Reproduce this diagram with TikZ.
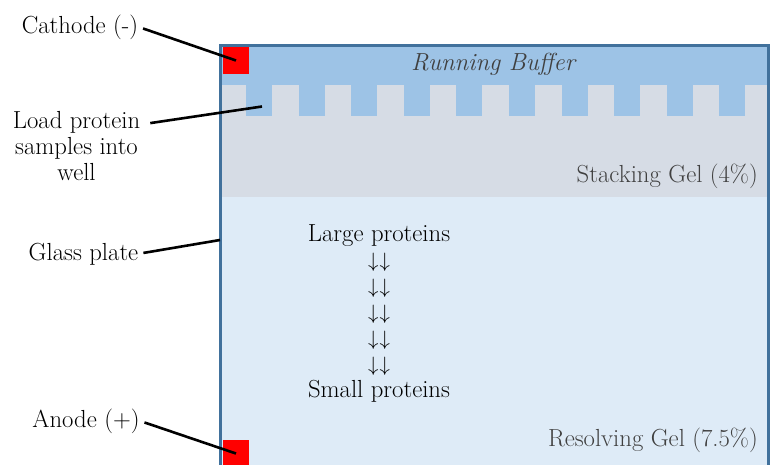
\documentclass[tikz,border=0pt]{standalone}
\usepackage{xcolor}
\usepackage{tikz}
\definecolor{buffer}{HTML}{9DC3E6}
\definecolor{stacking}{HTML}{D6DCE5}
\definecolor{resolving}{HTML}{DEEBF7}
\definecolor{plate}{HTML}{41719C}
\definecolor{geltext}{HTML}{404040}
\newcommand{\downpair}{{\fontsize{20}{26}\selectfont$\downarrow\mkern1mu\downarrow$}}

\begin{document}
\begin{tikzpicture}[x=1pt,y=-1pt,
    lbl/.style={font=\fontsize{24.7}{26}\selectfont,align=center,inner sep=0pt},
    gellbl/.style={lbl,text=geltext},
    lead/.style={line width=2.6pt,shorten <=5pt},
    electrode/.style={fill=red,inner sep=0pt,minimum width=26pt,minimum height=27pt},
    well/.style={fill=buffer,inner sep=0pt,minimum width=26pt,minimum height=31pt}]
    \useasboundingbox (0,0) rectangle (770,464);

    % gel layers
    \fill[buffer] (220,45) rectangle (768,86);
    \fill[stacking] (220,85) rectangle (768,197);
    \fill[resolving] (220,197) rectangle (768,470);
    \foreach \i in {0,...,9}
        \node[well] (w\i) at ({259+52.6*\i},100.5) {};
    \draw[plate,line width=3pt] (220.5,470) |- (768,45) -- (768,470);
    \coordinate (edge) at (220,240);

    \node[electrode] (cathode) at (236,60.5) {};
    \node[electrode] (anode) at (236,453.5) {};

    \node[gellbl,anchor=base,font=\fontsize{24.7}{26}\selectfont\itshape] (buf) at (493,70) {Running Buffer};
    \node[gellbl,anchor=base east] (stack) at (758,182) {Stacking Gel (4\%)};
    \node[gellbl,anchor=base east] (resolve) at (758,446) {Resolving Gel (7.5\%)};
    \node[lbl] (sizes) at (379,313.8) {Large proteins\\\downpair\\\downpair\\\downpair\\\downpair\\\downpair\\Small proteins};

    % labels on the left
    \node[lbl,anchor=base] (cathlbl) at (80,33) {Cathode (-)};
    \node[lbl] (loadlbl) at (76.5,145.7) {Load protein\\samples into\\well};
    \node[lbl,anchor=base] (platelbl) at (83.5,260) {Glass plate};
    \node[lbl,anchor=base] (anodelbl) at (86,427) {Anode (+)};

    \draw[lead] (cathlbl.east) -- (cathode.center);
    \draw[lead] ([xshift=5pt,yshift=-13pt]loadlbl.north east) -- ([xshift=3pt,yshift=-6pt]w0.center);
    \draw[lead] (platelbl.east) -- (edge);
    \draw[lead] (anodelbl.east) -- (anode.center);
\end{tikzpicture}
\end{document}
